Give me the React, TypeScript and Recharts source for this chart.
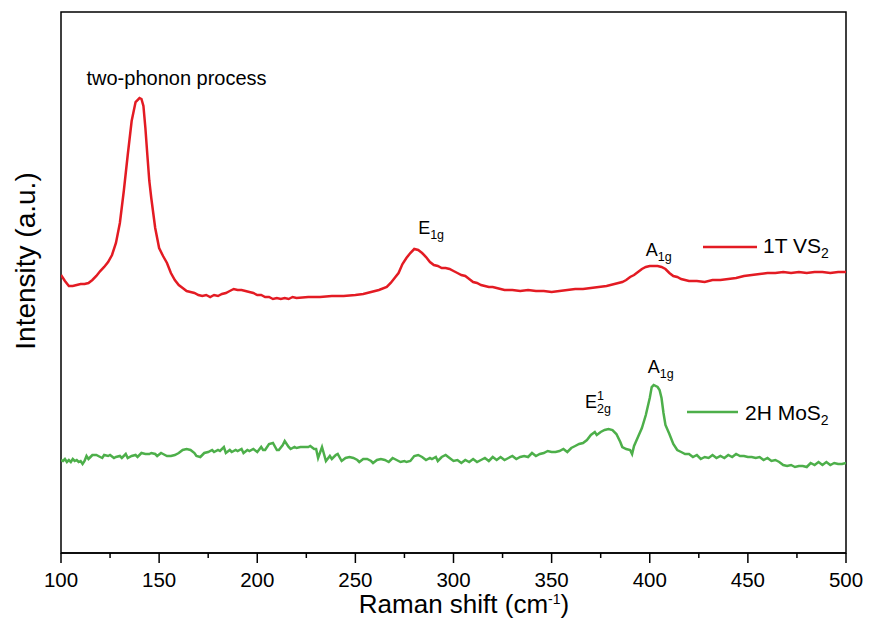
import { LineChart, Line, XAxis, YAxis, ReferenceArea, ReferenceDot, Customized } from "recharts";

const FONT = "'Liberation Sans', Arial, sans-serif";
const RED = "#e31b23";
const GREEN = "#4daf4a";

// 1T VS2 spectrum (offset, arbitrary units)
const vs2Shift = [
  100, 102, 104, 106, 108, 110, 112, 114, 116, 118,
  120, 122, 124, 126, 128, 130, 132, 134, 136, 138,
  140, 141, 142, 143, 144, 145, 146, 148, 150, 152,
  154, 156, 158, 160, 162, 164, 166, 168, 170, 172,
  174, 176, 178, 180, 182, 184, 186, 188, 190, 192,
  194, 196, 198, 200, 202, 204, 206, 208, 210, 212,
  214, 216, 218, 220, 226, 232, 238, 244, 250, 254,
  258, 262, 266, 268, 270, 272, 274, 276, 278, 280,
  282, 284, 286, 288, 290, 292, 294, 296, 298, 300,
  302, 304, 306, 308, 310, 312, 314, 316, 318, 320,
  322, 324, 326, 330, 334, 338, 342, 346, 350, 354,
  358, 362, 366, 370, 374, 378, 382, 386, 388, 390,
  392, 394, 396, 398, 400, 402, 404, 406, 408, 410,
  412, 414, 416, 418, 420, 424, 428, 432, 436, 440,
  444, 448, 452, 456, 460, 464, 468, 472, 476, 480,
  484, 488, 492, 496, 500,
];
const vs2Intensity = [
  278, 272, 267, 267, 268, 269, 269, 270, 273, 277,
  282, 286, 291, 298, 310, 330, 362, 398, 432, 451,
  455, 454, 447, 425, 398, 372, 355, 325, 305, 297,
  290, 280, 273, 268, 265, 262, 261, 260, 258, 257,
  258, 256, 258, 257, 259, 260, 262, 264, 263, 263,
  262, 261, 260, 258, 258, 256, 256, 254, 255, 254,
  255, 254, 256, 255, 256, 256, 257, 257, 258, 259,
  261, 263, 266, 270, 275, 280, 289, 295, 300, 304,
  303, 300, 296, 291, 288, 287, 285, 285, 284, 282,
  280, 278, 277, 274, 271, 270, 268, 267, 266, 266,
  265, 264, 263, 263, 262, 263, 262, 262, 261, 262,
  263, 264, 264, 265, 266, 267, 269, 271, 273, 276,
  278, 281, 284, 286, 287, 287, 287, 286, 284, 280,
  277, 276, 274, 273, 272, 272, 271, 273, 273, 274,
  275, 277, 278, 279, 280, 280, 281, 280, 281, 280,
  281, 281, 280, 281, 281,
];

// 2H MoS2 spectrum
const mos2Shift = [
  100, 101, 102, 103, 104, 105, 106, 107, 108, 109,
  110, 111, 112, 113, 114, 115, 116, 118, 120, 121,
  122, 124, 125, 127, 128, 130, 131, 133, 134, 136,
  138, 139, 141, 143, 145, 146, 148, 149, 151, 152,
  154, 156, 158, 160, 162, 164, 166, 168, 169, 171,
  173, 175, 177, 178, 180, 181, 183, 184, 186, 187,
  189, 190, 192, 193, 195, 196, 198, 200, 202, 203,
  204, 206, 208, 210, 211, 213, 214, 216, 217, 219,
  220, 222, 224, 226, 227, 229, 230, 231, 233, 235,
  237, 238, 240, 241, 243, 245, 247, 249, 251, 252,
  254, 256, 258, 259, 261, 263, 265, 267, 269, 271,
  273, 275, 276, 278, 280, 282, 284, 286, 288, 289,
  291, 292, 294, 296, 298, 300, 302, 304, 306, 308,
  310, 312, 314, 316, 318, 320, 322, 324, 326, 328,
  330, 332, 334, 336, 338, 340, 342, 344, 346, 348,
  350, 352, 354, 356, 358, 360, 362, 364, 366, 368,
  370, 372, 373, 375, 377, 379, 381, 383, 385, 386,
  388, 390, 391, 392, 394, 396, 398, 400, 401, 402,
  404, 405, 406, 407, 408, 410, 412, 414, 416, 418,
  420, 422, 424, 426, 428, 430, 432, 434, 436, 438,
  440, 442, 444, 446, 448, 450, 452, 454, 456, 458,
  460, 462, 464, 466, 468, 470, 472, 474, 476, 478,
  480, 482, 484, 486, 488, 490, 492, 494, 496, 498,
  500,
];
const mos2Intensity = [
  93, 92, 94, 91, 93, 91, 94, 92, 93, 91,
  92, 89, 92, 97, 94, 96, 98, 98, 96, 95,
  98, 97, 98, 95, 96, 97, 95, 99, 95, 97,
  98, 96, 100, 99, 99, 100, 99, 97, 100, 99,
  97, 97, 98, 100, 103, 104, 103, 100, 97, 96,
  100, 101, 103, 101, 103, 102, 106, 100, 103, 101,
  103, 102, 104, 100, 103, 102, 104, 101, 106, 103,
  103, 109, 110, 103, 103, 108, 112, 106, 104, 106,
  105, 106, 106, 106, 107, 104, 104, 95, 106, 92,
  97, 94, 98, 99, 92, 95, 96, 95, 93, 91,
  94, 94, 92, 90, 93, 94, 93, 91, 95, 93,
  91, 92, 91, 92, 97, 98, 96, 93, 95, 94,
  96, 92, 96, 98, 95, 92, 93, 90, 93, 91,
  94, 91, 93, 95, 92, 96, 93, 96, 93, 95,
  97, 94, 96, 97, 96, 100, 97, 99, 100, 102,
  101, 101, 102, 104, 101, 105, 107, 109, 110, 113,
  118, 121, 118, 121, 123, 124, 123, 119, 111, 106,
  104, 103, 99, 107, 116, 125, 138, 155, 166, 168,
  166, 163, 155, 140, 128, 119, 109, 103, 101, 99,
  99, 96, 98, 94, 96, 95, 98, 95, 97, 95,
  98, 96, 99, 97, 97, 96, 96, 95, 96, 93,
  95, 92, 93, 91, 88, 87, 88, 86, 87, 87,
  86, 90, 88, 91, 88, 91, 88, 90, 89, 89,
  90,
];

const shiftTicks = [100, 125, 150, 175, 200, 225, 250, 275, 300, 325, 350, 375, 400, 425, 450, 475, 500];

// peak assignments: [shift, intensity] of each label's baseline start
const twoPhononAt = [113, 468];
const vs2E1gAt = [282, 319];
const vs2A1gAt = [398, 297];
const mos2E2gAt = [367, 145];
const mos2A1gAt = [399, 180];

const vs2Rows = vs2Shift.map((x, i) => ({ x, y: vs2Intensity[i] }));
const mos2Rows = mos2Shift.map((x, i) => ({ x, y: mos2Intensity[i] }));

function ShiftTick(props: any) {
  const { x, y, payload } = props;
  const major = payload.value % 50 === 0;
  return (
    <g>
      <line x1={x} x2={x} y1={y} y2={y + (major ? 10 : 5)} stroke="#000" strokeWidth={1.5} />
      {major && (
        <text x={x} y={y + 34} textAnchor="middle" fontSize={20.5} fontFamily={FONT} fill="#000">
          {payload.value}
        </text>
      )}
    </g>
  );
}

// mode label: main letter with subscript (and optional superscript)
const modeLabel = (main: string, sub: string, sup?: string) => (props: any) => {
  const { x, y } = props.viewBox;
  const w = 12;
  return (
    <g fontFamily={FONT} fill="#000">
      <text x={x} y={y} fontSize={18}>{main}</text>
      <text x={x + w} y={y + 5} fontSize={12.5}>{sub}</text>
      {sup && <text x={x + w} y={y - 8} fontSize={12.5}>{sup}</text>}
    </g>
  );
};

const plainLabel = (value: string) => (props: any) => {
  const { x, y } = props.viewBox;
  return (
    <text x={x} y={y} fontSize={20} fontFamily={FONT} fill="#000">{value}</text>
  );
};

function Decorations() {
  return (
    <g fontFamily={FONT} fill="#000">
      <text x={25} y={261} transform="rotate(-90 25 261)" textAnchor="middle" dominantBaseline="central" fontSize={28}>
        Intensity (a.u.)
      </text>
      <text x={464} y={613} textAnchor="middle" fontSize={26}>
        Raman shift (cm<tspan dy={-9} fontSize={14}>-1</tspan><tspan dy={9}>)</tspan>
      </text>
      <line x1={703} x2={757} y1={247} y2={247} stroke={RED} strokeWidth={2.5} />
      <text x={763} y={253} fontSize={21}>1T VS<tspan dy={5} fontSize={14}>2</tspan></text>
      <line x1={687} x2={738} y1={412} y2={412} stroke={GREEN} strokeWidth={2.5} />
      <text x={745} y={420} fontSize={21}>2H MoS<tspan dy={5} fontSize={14}>2</tspan></text>
    </g>
  );
}

export default function App() {
  return (
    <div style={{ position: "absolute", left: 0, top: 0, width: 869, height: 627, background: "#fff" }}>
      <LineChart width={869} height={627} margin={{ top: 12, right: 23, left: 61, bottom: 0 }}>
        <XAxis
          type="number"
          dataKey="x"
          domain={[100, 500]}
          ticks={shiftTicks}
          interval={0}
          height={74}
          tickSize={0}
          tickMargin={0}
          tickLine={false}
          tick={<ShiftTick />}
          axisLine={{ stroke: "#000", strokeWidth: 1.5 }}
          allowDataOverflow
        />
        <YAxis hide type="number" domain={[0, 541]} allowDataOverflow />
        <ReferenceArea x1={100} x2={500} y1={0} y2={541} fill="none" stroke="#000" strokeWidth={1.5} />
        <Line data={vs2Rows} dataKey="y" type="linear" stroke={RED} strokeWidth={2.5} dot={false} isAnimationActive={false} />
        <Line data={mos2Rows} dataKey="y" type="linear" stroke={GREEN} strokeWidth={2.5} dot={false} isAnimationActive={false} />
        <ReferenceDot x={twoPhononAt[0]} y={twoPhononAt[1]} r={0} fill="none" stroke="none" label={plainLabel("two-phonon process")} />
        <ReferenceDot x={vs2E1gAt[0]} y={vs2E1gAt[1]} r={0} fill="none" stroke="none" label={modeLabel("E", "1g")} />
        <ReferenceDot x={vs2A1gAt[0]} y={vs2A1gAt[1]} r={0} fill="none" stroke="none" label={modeLabel("A", "1g")} />
        <ReferenceDot x={mos2E2gAt[0]} y={mos2E2gAt[1]} r={0} fill="none" stroke="none" label={modeLabel("E", "2g", "1")} />
        <ReferenceDot x={mos2A1gAt[0]} y={mos2A1gAt[1]} r={0} fill="none" stroke="none" label={modeLabel("A", "1g")} />
        <Customized component={<Decorations />} />
      </LineChart>
    </div>
  );
}
